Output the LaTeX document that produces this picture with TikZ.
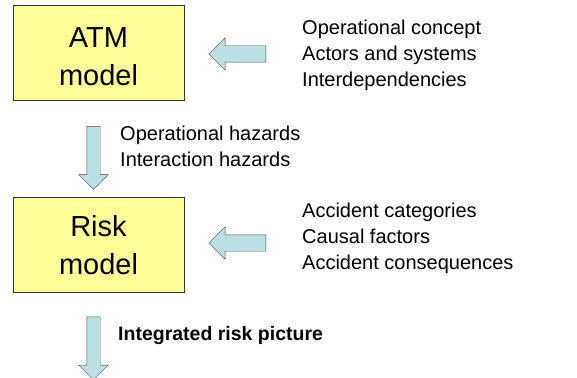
\documentclass[tikz,border=0pt]{standalone}
\usepackage{fontspec}
\setmainfont{Liberation Sans}
\usepackage{tikz}
\usetikzlibrary{shapes.arrows, positioning}

\definecolor{modelyellow}{RGB}{255,255,153}
\definecolor{arrowblue}{RGB}{187,224,227}

\begin{document}
\begin{tikzpicture}[
    model/.style={draw=black!80, thick, rectangle, fill=modelyellow,
                  minimum width=171pt, minimum height=95pt},
    modeltext/.style={align=center, inner sep=0pt,
                      font=\fontsize{29}{38}\selectfont},
    fatleft/.style={draw=black!70, fill=arrowblue, single arrow, inner sep=8pt,
                    single arrow head extend=8pt,
                    minimum height=57pt, shape border rotate=180},
    fatdown/.style={draw=black!70, fill=arrowblue, single arrow, inner sep=6.5pt,
                    single arrow head extend=8pt,
                    minimum height=63pt, shape border rotate=270},
    info/.style={anchor=west, align=left, inner sep=0pt,
                 font=\fontsize{20}{26}\selectfont}
]
    \useasboundingbox (0,0) rectangle (577pt,-377pt);

    % --- Models ---
    \node[model] (atm)  at (98.5pt, -52.5pt)  {};
    \node[model] (risk) at (98.5pt, -244.5pt) {};
    \node[modeltext] (atmname)  at ([yshift=-3.9pt]atm.center)  {ATM\\model};
    \node[modeltext] (riskname) at ([yshift=-0.7pt]risk.center) {Risk\\model};

    % --- Inputs ---
    \node[info] (atmin)  at (302pt, -55pt)
        {Operational concept\\Actors and systems\\Interdependencies};
    \node[info] (riskin) at (302pt, -238pt)
        {Accident categories\\Causal factors\\Accident consequences};

    \node[fatleft] (atmarrow)  at (241.5pt, -54pt)  {};
    \node[fatleft] (riskarrow) at (241.5pt, -243pt) {};

    % --- Outputs ---
    \node[fatdown] (hazarrow)  at (93.5pt, -154.5pt) {};
    \node[fatdown] (outarrow)  at (93.5pt, -345pt)   {};

    \node[info] (hazards) at (120pt, -146.5pt)
        {Operational hazards\\Interaction hazards};
    \node[info, font=\fontsize{19.5}{24}\selectfont\bfseries]
        (picture) at (118pt, -335pt) {Integrated risk picture};
\end{tikzpicture}
\end{document}
